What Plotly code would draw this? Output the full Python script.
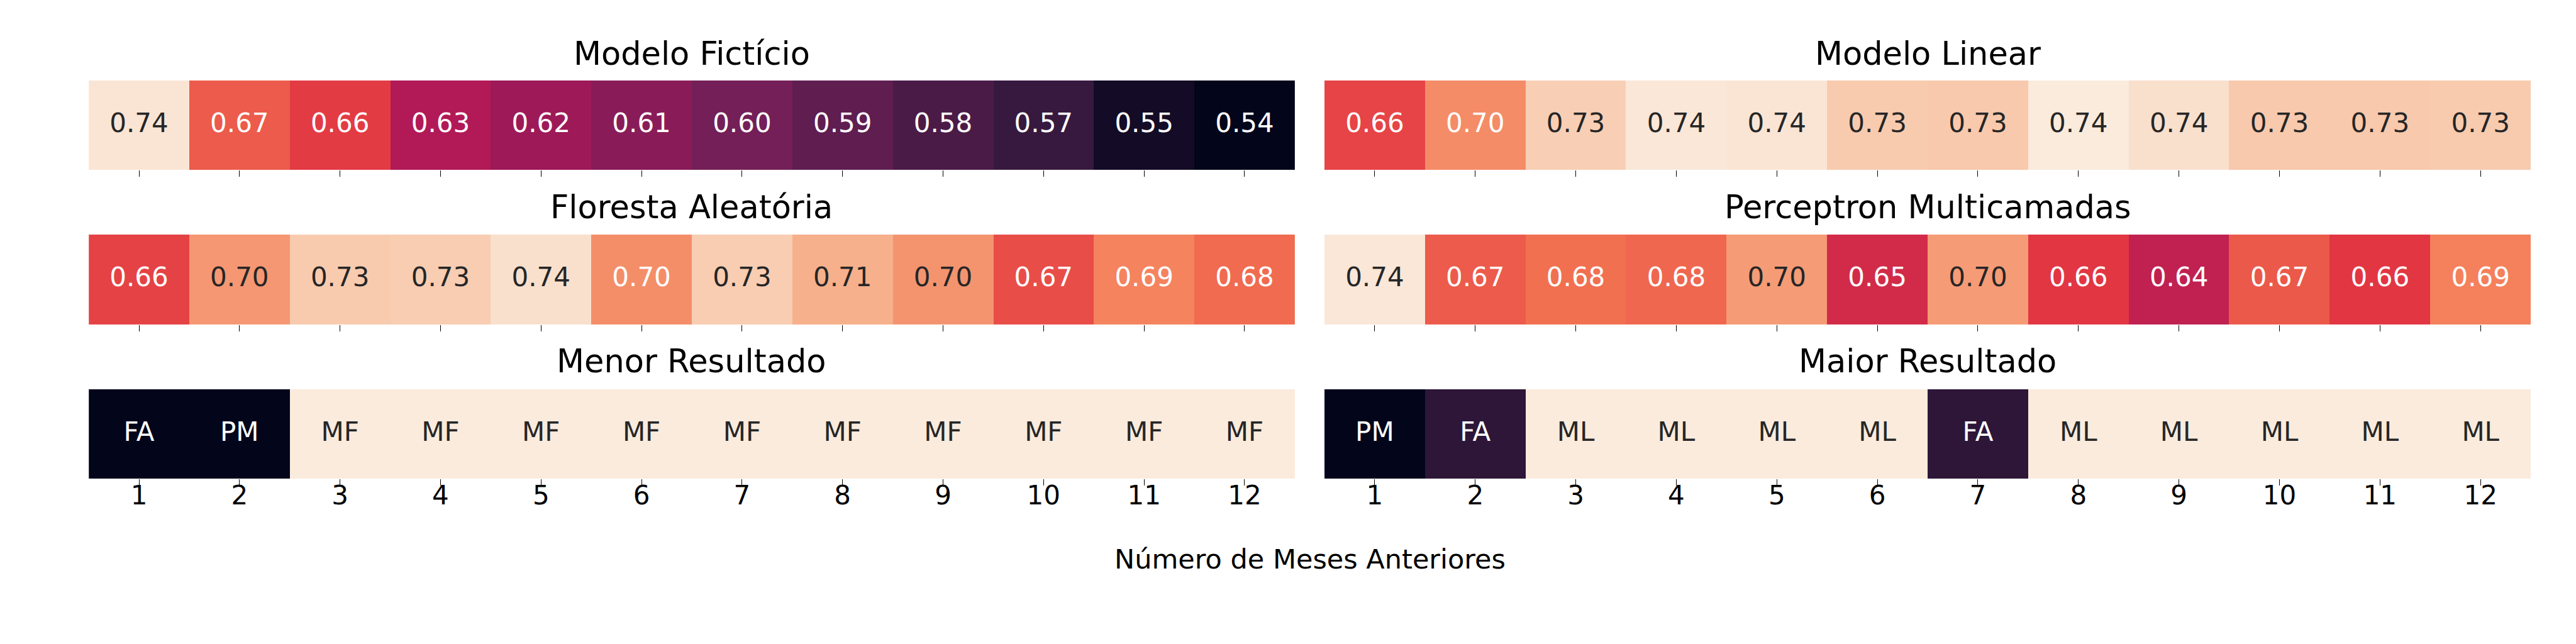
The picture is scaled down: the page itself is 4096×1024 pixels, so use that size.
import plotly.graph_objects as go

# ---------------- data ----------------
meses = [1, 2, 3, 4, 5, 6, 7, 8, 9, 10, 11, 12]
rotulos_meses = ["1", "2", "3", "4", "5", "6", "7", "8", "9", "10", "11", "12"]

modelo_ficticio = [0.741, 0.674, 0.660, 0.630, 0.620, 0.610, 0.600, 0.590, 0.580, 0.570, 0.550, 0.540]
modelo_linear = [0.664, 0.696, 0.729, 0.742, 0.741, 0.727, 0.726, 0.744, 0.738, 0.726, 0.7258, 0.727]
floresta_aleatoria = [0.663, 0.701, 0.727, 0.728, 0.738, 0.697, 0.728, 0.713, 0.700, 0.668, 0.6916, 0.681]
perceptron_multicamadas = [0.742, 0.674, 0.683, 0.679, 0.703, 0.648, 0.703, 0.658, 0.638, 0.673, 0.658, 0.691]

menor_rotulos = ["FA", "PM", "MF", "MF", "MF", "MF", "MF", "MF", "MF", "MF", "MF", "MF"]
menor_cor = [0.0, 0.0, 1.0, 1.0, 1.0, 1.0, 1.0, 1.0, 1.0, 1.0, 1.0, 1.0]
maior_rotulos = ["PM", "FA", "ML", "ML", "ML", "ML", "FA", "ML", "ML", "ML", "ML", "ML"]
maior_cor = [0.0, 0.12, 1.0, 1.0, 1.0, 1.0, 0.12, 1.0, 1.0, 1.0, 1.0, 1.0]

titulos = ["Modelo Fictício", "Modelo Linear", "Floresta Aleatória",
           "Perceptron Multicamadas", "Menor Resultado", "Maior Resultado"]
rotulo_x = "Número de Meses Anteriores"

# ---------------- style ----------------
rocket = [(0.0, "#03051a"), (1 / 7, "#35193e"), (2 / 7, "#701f57"), (3 / 7, "#ad1759"),
          (4 / 7, "#e13342"), (5 / 7, "#f37651"), (6 / 7, "#f6b48f"), (1.0, "#faebdd")]
FONT = "DejaVu Sans"


def hex2rgb(h):
    h = h.lstrip("#")
    return [int(h[i:i + 2], 16) for i in (0, 2, 4)]


def cor_em(p):
    p = min(max(p, 0.0), 1.0)
    for (p0, c0), (p1, c1) in zip(rocket[:-1], rocket[1:]):
        if p0 <= p <= p1:
            t = (p - p0) / (p1 - p0) if p1 > p0 else 0
            a, b = hex2rgb(c0), hex2rgb(c1)
            return [a[i] + (b[i] - a[i]) * t for i in range(3)]
    return hex2rgb(rocket[-1][1])


def luminancia(rgb):
    out = []
    for v in rgb:
        v = v / 255.0
        out.append(v / 12.92 if v <= 0.03928 else ((v + 0.055) / 1.055) ** 2.4)
    return 0.2126 * out[0] + 0.7152 * out[1] + 0.0722 * out[2]


def cores_texto(vals, vmin, vmax):
    res = []
    for v in vals:
        p = (v - vmin) / (vmax - vmin)
        res.append("#262626" if luminancia(cor_em(p)) > 0.408 else "#ffffff")
    return res


todos = modelo_ficticio + modelo_linear + floresta_aleatoria + perceptron_multicamadas
vmin, vmax = min(todos), max(todos)

paineis = [
    (modelo_ficticio, [f"{v:.2f}" for v in modelo_ficticio], vmin, vmax),
    (modelo_linear, [f"{v:.2f}" for v in modelo_linear], vmin, vmax),
    (floresta_aleatoria, [f"{v:.2f}" for v in floresta_aleatoria], vmin, vmax),
    (perceptron_multicamadas, [f"{v:.2f}" for v in perceptron_multicamadas], vmin, vmax),
    (menor_cor, menor_rotulos, 0.0, 1.0),
    (maior_cor, maior_rotulos, 0.0, 1.0),
]

col_dom = [[0.0325, 0.5007], [0.5122, 0.9805]]
row_dom = [[0.7441, 0.8828], [0.5039, 0.6436], [0.2646, 0.4033]]
title_y = [0.924, 0.686, 0.4465]

fig = go.Figure()
layout = dict(width=4096, height=1024, margin=dict(l=0, r=0, t=0, b=0),
              paper_bgcolor="white", plot_bgcolor="white", showlegend=False,
              font=dict(family=FONT, color="black"))
annotations = []

for i, (vals, textos, zmin, zmax) in enumerate(paineis):
    r, c = i // 2, i % 2
    ax = "" if i == 0 else str(i + 1)
    fig.add_trace(go.Heatmap(z=[vals], x=meses, y=[0], colorscale=[[p, col] for p, col in rocket],
                             zmin=zmin, zmax=zmax, showscale=False, hoverinfo="skip",
                             xaxis="x" + ax, yaxis="y" + ax))
    fig.add_trace(go.Scatter(x=meses, y=[0] * len(meses), mode="text", text=textos,
                             textposition="middle center",
                             textfont=dict(family=FONT, size=42, color=cores_texto(vals, zmin, zmax)),
                             hoverinfo="skip", xaxis="x" + ax, yaxis="y" + ax))
    layout["xaxis" + ax] = dict(domain=col_dom[c], range=[0.5, 12.5], anchor="y" + ax,
                                tickmode="array", tickvals=meses, showticklabels=False,
                                ticks="outside", ticklen=10, tickwidth=1, tickcolor="black",
                                showgrid=False, zeroline=False, showline=False, fixedrange=True)
    layout["yaxis" + ax] = dict(domain=row_dom[r], range=[-0.5, 0.5], anchor="x" + ax,
                                visible=False, fixedrange=True)
    if r == 2:
        # tick-label axis overlaying the bottom-row heatmaps
        lab = str(i + 3)
        fig.add_trace(go.Scatter(x=meses, y=[None] * len(meses), mode="markers",
                                 marker=dict(opacity=0), hoverinfo="skip",
                                 xaxis="x" + lab, yaxis="y" + ax))
        layout["xaxis" + lab] = dict(domain=col_dom[c], range=[0.5, 12.5], anchor="free",
                                     position=row_dom[r][0] + 2 / 1024,
                                     overlaying="x" + ax, side="bottom",
                                     tickmode="array", tickvals=meses, ticktext=rotulos_meses,
                                     ticks="", showticklabels=True,
                                     tickfont=dict(family=FONT, size=42, color="black"),
                                     showgrid=False, zeroline=False, showline=False,
                                     fixedrange=True)
    annotations.append(dict(text=titulos[i], x=sum(col_dom[c]) / 2, y=title_y[r],
                            xref="paper", yref="paper", xanchor="center", yanchor="middle",
                            showarrow=False, font=dict(family=FONT, size=51, color="black")))

annotations.append(dict(text=rotulo_x, x=0.5065, y=0.140, xref="paper", yref="paper",
                        xanchor="center", yanchor="middle", showarrow=False,
                        font=dict(family=FONT, size=43, color="black")))
layout["annotations"] = annotations
fig.update_layout(**layout)
fig.write_html("out.html")
